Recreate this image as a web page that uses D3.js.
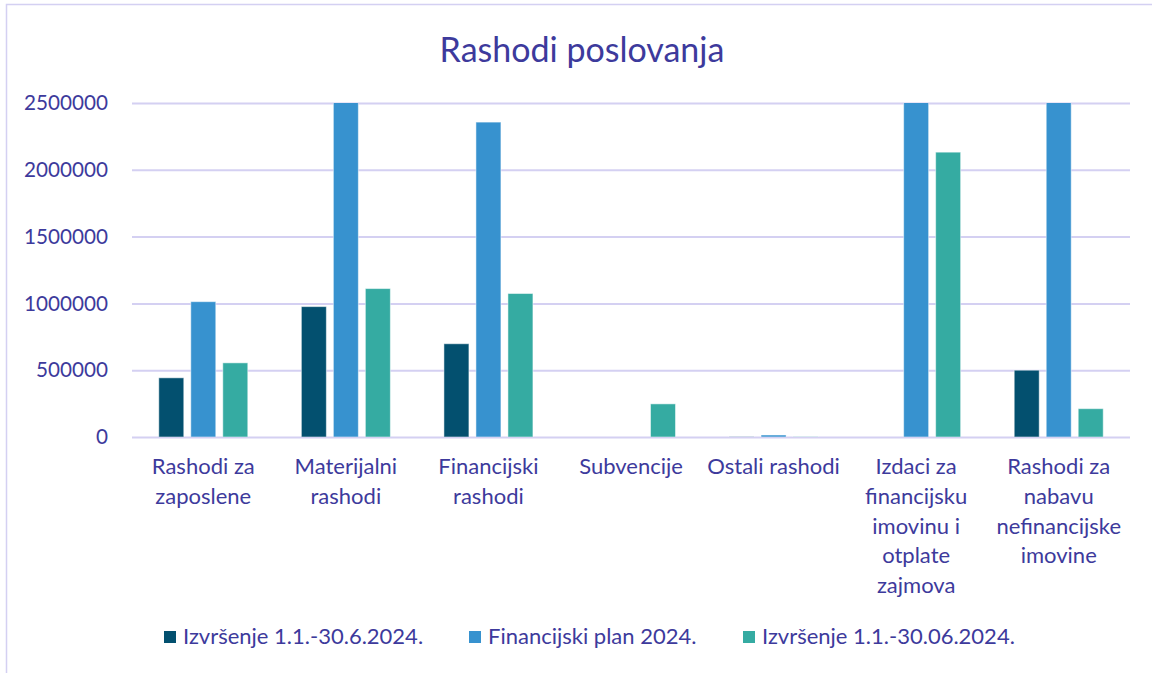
<!DOCTYPE html>
<html>
<head>
<meta charset="utf-8">
<script src="https://cdn.jsdelivr.net/npm/d3@7"></script>
<style>
  html, body { margin: 0; padding: 0; background: #fff; }
  svg text { font-family: Lato, "Open Sans", sans-serif; fill: #3d3a9c; }
</style>
</head>
<body>
<div id="chart"></div>
<script>
const categories = [
  "Rashodi za\nzaposlene",
  "Materijalni\nrashodi",
  "Financijski\nrashodi",
  "Subvencije",
  "Ostali rashodi",
  "Izdaci za\nfinancijsku\nimovinu i\notplate\nzajmova",
  "Rashodi za\nnabavu\nnefinancijske\nimovine"
];
const seriesNames = ["Izvršenje 1.1.-30.6.2024.", "Financijski plan 2024.", "Izvršenje 1.1.-30.06.2024."];
const izvrsenje2024a = [443000, 976000, 698000, 0, 1500, 0, 500000];
const plan2024 = [1013000, 3100000, 2357000, 0, 15000, 4200000, 3300000];
const izvrsenje2024b = [555000, 1111000, 1074000, 248000, 1500, 2132000, 212000];
const yTicks = [0, 500000, 1000000, 1500000, 2000000, 2500000];
const colors = ["#03506f", "#3792cf", "#35aba2"];

const width = 1152, height = 673;
const margin = { top: 103, right: 22, bottom: 237, left: 132 };

const svg = d3.select("#chart").append("svg")
  .attr("width", width)
  .attr("height", height);

// outer frame
svg.append("rect")
  .attr("x", 6.5).attr("y", 4.5)
  .attr("width", width + 20).attr("height", height + 20)
  .attr("fill", "none")
  .attr("stroke", "#d4d0f2")
  .attr("stroke-width", 1.5);

svg.append("text")
  .attr("x", 582).attr("y", 62)
  .attr("text-anchor", "middle")
  .style("font-size", "34px")
  .text("Rashodi poslovanja");

const x0 = d3.scaleBand()
  .domain(d3.range(categories.length))
  .range([margin.left, width - margin.right])
  .paddingInner(0)
  .paddingOuter(0);

const x1 = d3.scaleBand()
  .domain(d3.range(seriesNames.length))
  .range([0, x0.bandwidth()])
  .paddingInner(0.219)
  .paddingOuter(0.837);

const y = d3.scaleLinear()
  .domain([0, 2500000])
  .range([height - margin.bottom + 1, margin.top]);

// gridlines + tick labels
const yAxis = d3.axisLeft(y)
  .tickValues(yTicks)
  .tickSize(-(width - margin.left - margin.right))
  .tickPadding(24)
  .tickFormat(d3.format("d"));

const ga = svg.append("g")
  .attr("transform", `translate(${margin.left},0)`)
  .call(yAxis);
ga.select(".domain").remove();
ga.selectAll(".tick line").attr("stroke", "#d4d0f2").attr("stroke-width", 2);
ga.selectAll(".tick text").style("font-size", "20.7px").attr("fill", "#3d3a9c");

svg.append("clipPath").attr("id", "plotclip")
  .append("rect")
  .attr("x", margin.left).attr("y", margin.top)
  .attr("width", width - margin.left - margin.right)
  .attr("height", y(0) - margin.top);

const series = [izvrsenje2024a, plan2024, izvrsenje2024b];

const groups = svg.append("g")
  .attr("clip-path", "url(#plotclip)")
  .selectAll("g")
  .data(categories)
  .join("g")
  .attr("transform", (d, i) => `translate(${x0(i)},0)`);

groups.selectAll("rect")
  .data((d, i) => series.map((s, j) => ({ j, v: s[i] })))
  .join("rect")
  .attr("x", d => x1(d.j))
  .attr("width", x1.bandwidth())
  .attr("y", d => y(d.v))
  .attr("height", d => y(0) - y(d.v))
  .attr("fill", d => colors[d.j])
  .attr("stroke", "#ffffff")
  .attr("stroke-opacity", 0.5)
  .attr("stroke-width", 1);

// category labels
const lab = svg.append("g").selectAll("text")
  .data(categories)
  .join("text")
  .attr("text-anchor", "middle")
  .style("font-size", "22px")
  .attr("transform", (d, i) => `translate(${x0(i) + x0.bandwidth() / 2},474)`);

lab.each(function(d) {
  const t = d3.select(this);
  d.split("\n").forEach((line, i) => {
    t.append("tspan")
      .attr("x", 0)
      .attr("y", i * 29.8)
      .text(line);
  });
});

// legend
const legendX = [164, 469, 743];
const leg = svg.append("g").selectAll("g")
  .data(seriesNames)
  .join("g")
  .attr("transform", (d, i) => `translate(${legendX[i]},631)`);
leg.append("rect")
  .attr("width", 12).attr("height", 12)
  .attr("fill", (d, i) => colors[i]);
leg.append("text")
  .attr("x", 19).attr("y", 13)
  .style("font-size", "22px")
  .text(d => d);
</script>
</body>
</html>
